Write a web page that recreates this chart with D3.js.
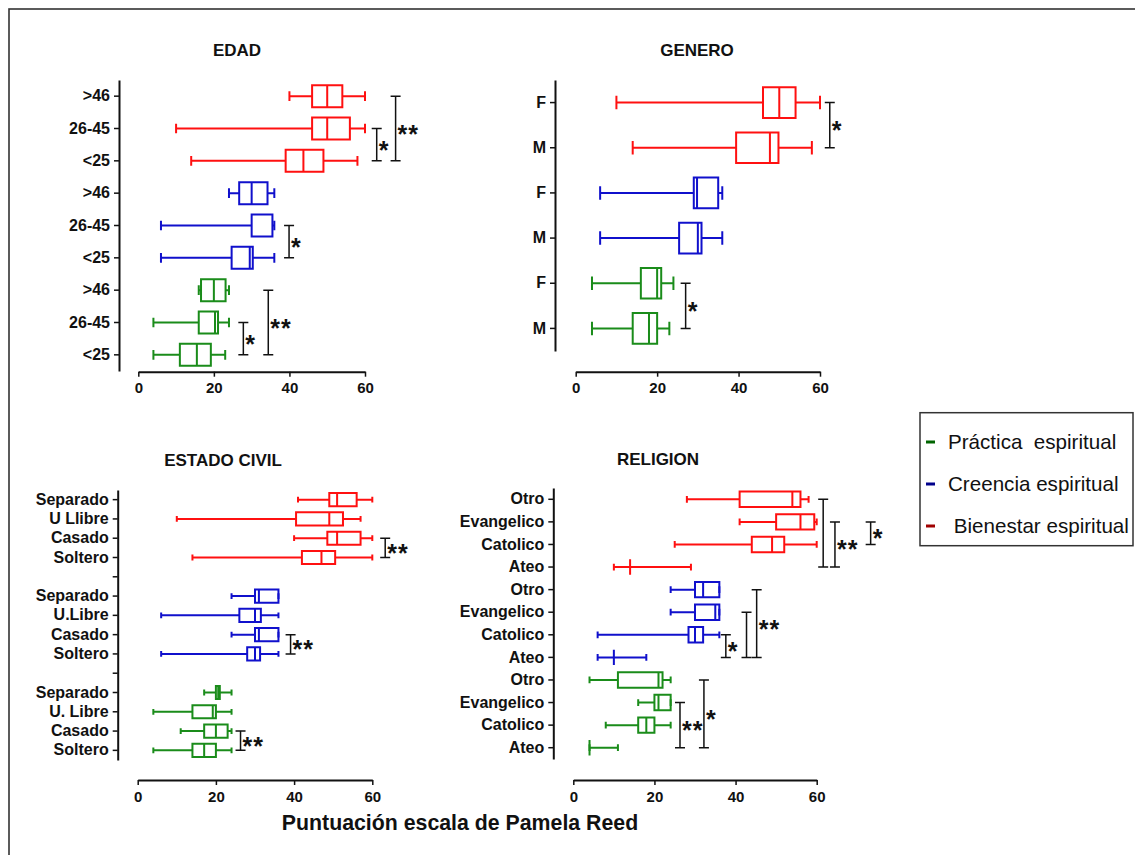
<!DOCTYPE html>
<html>
<head>
<meta charset="utf-8">
<script src="https://cdn.jsdelivr.net/npm/d3@7"></script>
<style>
  body { margin: 0; background: #fff; }
  svg { display: block; font-family: "Liberation Sans", Arial, sans-serif; }
</style>
</head>
<body>
<div id="chart-area"></div>
<script>
// box stats: [min, q1, median, q3, max]
var edadLabels = [">46", "26-45", "<25", ">46", "26-45", "<25", ">46", "26-45", "<25"];
var edadGroups = ["b", "b", "b", "c", "c", "c", "p", "p", "p"];
var edadStats = [
  [40, 46, 50, 54, 60], [10, 46, 50, 56, 60], [14, 39, 43.7, 49, 58],
  [24, 26.7, 30, 34.2, 36], [6, 30, 35.5, 35.5, 36], [6, 24.7, 29.5, 30.3, 36],
  [16, 16.6, 20, 23.1, 24], [4, 16, 20.3, 21.1, 24], [4, 11, 15.5, 19.2, 23]
];
var edadSig = [
  { from: 1, to: 2, at: 63.1, label: "*" }, { from: 0, to: 2, at: 68.1, label: "**" },
  { from: 4, to: 5, at: 39.9, label: "*" },
  { from: 7, to: 8, at: 27.8, label: "*" }, { from: 6, to: 8, at: 34.4, label: "**" }
];

var generoLabels = ["F", "M", "F", "M", "F", "M"];
var generoGroups = ["b", "b", "c", "c", "p", "p"];
var generoStats = [
  [10, 46, 50, 54, 60], [14, 39.4, 47.7, 49.8, 58],
  [6, 29, 29.8, 35, 36], [6, 25.4, 30, 30.9, 36],
  [4, 16, 20, 21, 24], [4, 14, 18, 20, 23]
];
var generoSig = [
  { from: 0, to: 1, at: 62.4, label: "*" },
  { from: 4, to: 5, at: 27, label: "*" }
];

var civilLabels = ["Separado", "U Llibre", "Casado", "Soltero", "",
  "Separado", "U.Libre", "Casado", "Soltero", "",
  "Separado", "U. Libre", "Casado", "Soltero"];
var civilGroups = ["b", "b", "b", "b", null, "c", "c", "c", "c", null, "p", "p", "p", "p"];
var civilStats = [
  [41, 49, 51, 56, 60], [10, 40.5, 49, 52.5, 57], [40, 48.5, 51, 57, 60], [14, 42, 47, 50.5, 60], null,
  [24, 30, 31, 36, 36], [6, 26, 30, 31.5, 36], [24, 30, 31, 36, 36], [6, 28, 30, 31.3, 36], null,
  [17, 20, 20.6, 21, 24], [4, 14, 19.2, 20, 24], [11, 17, 20, 23, 24], [4, 14, 17, 20, 24]
];
var civilSig = [
  { from: 2, to: 3, at: 63.3, label: "**" },
  { from: 7, to: 8, at: 39.1, label: "**" },
  { from: 12, to: 13, at: 26.3, label: "**" }
];

var religionLabels = ["Otro", "Evangelico", "Catolico", "Ateo", "Otro", "Evangelico", "Catolico", "Ateo",
  "Otro", "Evangelico", "Catolico", "Ateo"];
var religionGroups = ["b", "b", "b", "b", "c", "c", "c", "c", "p", "p", "p", "p"];
var religionStats = [
  [28, 41, 54, 56, 58], [41, 50, 56, 59.4, 60], [25, 44, 49, 52, 60], [10, 14, 14, 14, 29],
  [24, 30, 32, 36, 36], [24, 30, 35, 36, 36], [6, 28.4, 30, 32, 36], [6, 10, 10, 10, 18],
  [4, 11, 21, 22, 24], [16, 20, 21, 24, 24], [8, 16, 18, 20, 24], [4, 4, 4, 4, 11]
];
var religionSig = [
  { from: 0, to: 3, at: 61.6, label: "" }, { from: 1, to: 3, at: 64.5, label: "**" },
  { from: 1, to: 2, at: 73.3, label: "*" },
  { from: 6, to: 7, at: 37.6, label: "*" }, { from: 5, to: 7, at: 42.7, label: "" },
  { from: 4, to: 7, at: 45.2, label: "**" },
  { from: 9, to: 11, at: 26.3, label: "**" }, { from: 8, to: 11, at: 32.2, label: "*" }
];

var xTicks = [0, 20, 40, 60];
var legendKeys = ["p", "c", "b"];
var legendNames = ["Práctica  espiritual", "Creencia espiritual", " Bienestar espiritual"];

var lineColor = { b: "#ff1010", c: "#1010cc", p: "#1a8c1a" };
var keyColor = { b: "#a00000", c: "#00008b", p: "#006400" };

var width = 1135, height = 855;

var svg = d3.select("#chart-area").append("svg")
  .attr("width", width)
  .attr("height", height);

// outer frame (only top/left visible)
svg.append("rect")
  .attr("x", 9).attr("y", 9)
  .attr("width", 1300).attr("height", 1000)
  .attr("fill", "none")
  .attr("stroke", "#333")
  .attr("stroke-width", 1.6);

var panels = [
  { title: "EDAD", tx: 237, ty: 56, labels: edadLabels, groups: edadGroups, stats: edadStats, sig: edadSig,
    axisX: 119, xRange: [138.3, 365], yRange: [80, 371], xAxisY: 371.7 },
  { title: "GENERO", tx: 697, ty: 56, labels: generoLabels, groups: generoGroups, stats: generoStats, sig: generoSig,
    axisX: 555, xRange: [575.7, 820], yRange: [80, 351], xAxisY: 371.7 },
  { title: "ESTADO CIVIL", tx: 223, ty: 466, labels: civilLabels, groups: civilGroups, stats: civilStats, sig: civilSig,
    axisX: 117.7, xRange: [137.7, 372.3], yRange: [490, 760], xAxisY: 780 },
  { title: "RELIGION", tx: 658, ty: 465, labels: religionLabels, groups: religionGroups, stats: religionStats, sig: religionSig,
    axisX: 553.3, xRange: [573.3, 816.7], yRange: [488, 759], xAxisY: 780 }
];

panels.forEach(drawPanel);

function drawPanel(p) {
  var n = p.labels.length;
  var y = d3.scaleBand().domain(d3.range(n)).range(p.yRange);
  var x = d3.scaleLinear().domain([0, 60]).range(p.xRange);
  var bw = y.bandwidth();
  var cy = function(i) { return y(i) + bw / 2; };
  var g = svg.append("g");

  g.append("text")
    .attr("x", p.tx).attr("y", p.ty)
    .attr("text-anchor", "middle")
    .attr("font-size", "17px")
    .attr("font-weight", "bold")
    .attr("fill", "#111")
    .text(p.title);

  var yAxis = d3.axisLeft(y).tickSize(5).tickSizeOuter(0).tickPadding(4)
    .tickFormat(function(i) { return p.labels[i]; });
  var ya = g.append("g")
    .attr("transform", "translate(" + p.axisX + ",0)")
    .call(yAxis);
  ya.select(".domain").attr("stroke", "#111").attr("stroke-width", 2);
  ya.selectAll(".tick line").attr("stroke", "#111").attr("stroke-width", 1.5);
  ya.selectAll("text")
    .attr("font-size", "16px")
    .attr("font-weight", "bold")
    .attr("font-family", "Liberation Sans, Arial, sans-serif")
    .attr("fill", "#111");

  var xAxis = d3.axisBottom(x).tickValues(xTicks).tickSize(5).tickSizeOuter(0).tickPadding(6);
  var xa = g.append("g")
    .attr("transform", "translate(0," + p.xAxisY + ")")
    .call(xAxis);
  xa.select(".domain").attr("stroke", "#111").attr("stroke-width", 2);
  xa.selectAll(".tick line").attr("stroke", "#111").attr("stroke-width", 1.5);
  xa.selectAll("text")
    .attr("font-size", "15px")
    .attr("font-weight", "bold")
    .attr("font-family", "Liberation Sans, Arial, sans-serif")
    .attr("fill", "#111");

  var rows = d3.range(n).filter(function(i) { return p.stats[i]; });
  var bh = bw * 0.68, ch = bw * 0.3;

  var box = g.selectAll(".box").data(rows).enter().append("g")
    .attr("class", "box")
    .attr("stroke", function(i) { return lineColor[p.groups[i]]; })
    .attr("stroke-width", 2)
    .attr("fill", "none");

  // whiskers
  box.append("path")
    .attr("d", function(i) {
      var s = p.stats[i], c = cy(i);
      return "M" + x(s[0]) + "," + c + "H" + x(s[1]) +
        "M" + x(s[3]) + "," + c + "H" + x(s[4]) +
        "M" + x(s[0]) + "," + (c - ch / 2) + "V" + (c + ch / 2) +
        "M" + x(s[4]) + "," + (c - ch / 2) + "V" + (c + ch / 2);
    });
  // box + median
  box.append("path")
    .attr("d", function(i) {
      var s = p.stats[i], c = cy(i);
      return "M" + x(s[1]) + "," + (c - bh / 2) + "H" + x(s[3]) + "V" + (c + bh / 2) +
        "H" + x(s[1]) + "Z" +
        "M" + x(s[2]) + "," + (c - bh / 2) + "V" + (c + bh / 2);
    });

  // significance brackets
  var sig = g.selectAll(".sig").data(p.sig).enter().append("g").attr("class", "sig");
  sig.append("path")
    .attr("fill", "none")
    .attr("stroke", "#111")
    .attr("stroke-width", 1.5)
    .attr("d", function(d) {
      var xs = x(d.at), y1 = cy(d.from), y2 = cy(d.to);
      return "M" + xs + "," + y1 + "V" + y2 +
        "M" + (xs - 5) + "," + y1 + "H" + (xs + 5) +
        "M" + (xs - 5) + "," + y2 + "H" + (xs + 5);
    });
  sig.append("text")
    .attr("x", function(d) { return x(d.at) + 2; })
    .attr("y", function(d) { return (cy(d.from) + cy(d.to)) / 2 + 14; })
    .attr("font-size", "25px")
    .attr("font-weight", "bold")
    .attr("letter-spacing", "1px")
    .attr("fill", "#111")
    .text(function(d) { return d.label; });
}

// axis title
svg.append("text")
  .attr("x", 460).attr("y", 830)
  .attr("text-anchor", "middle")
  .attr("font-size", "21.3px")
  .attr("font-weight", "bold")
  .attr("fill", "#111")
  .text("Puntuación escala de Pamela Reed");

// legend
var legend = svg.append("g");
legend.append("rect")
  .attr("x", 920).attr("y", 412.7)
  .attr("width", 213).attr("height", 133)
  .attr("fill", "#fff")
  .attr("stroke", "#333")
  .attr("stroke-width", 1.5);

var legendY = d3.scalePoint().domain(legendKeys).range([442, 526]);
legendKeys.forEach(function(k, i) {
  legend.append("rect")
    .attr("x", 926).attr("y", legendY(k) - 1.5)
    .attr("width", 9).attr("height", 3)
    .attr("fill", keyColor[k]);
  legend.append("text")
    .attr("x", 948).attr("y", legendY(k) + 7)
    .attr("font-size", "20.6px")
    .attr("fill", "#111")
    .attr("xml:space", "preserve")
    .style("white-space", "pre")
    .text(legendNames[i]);
});
</script>
</body>
</html>
